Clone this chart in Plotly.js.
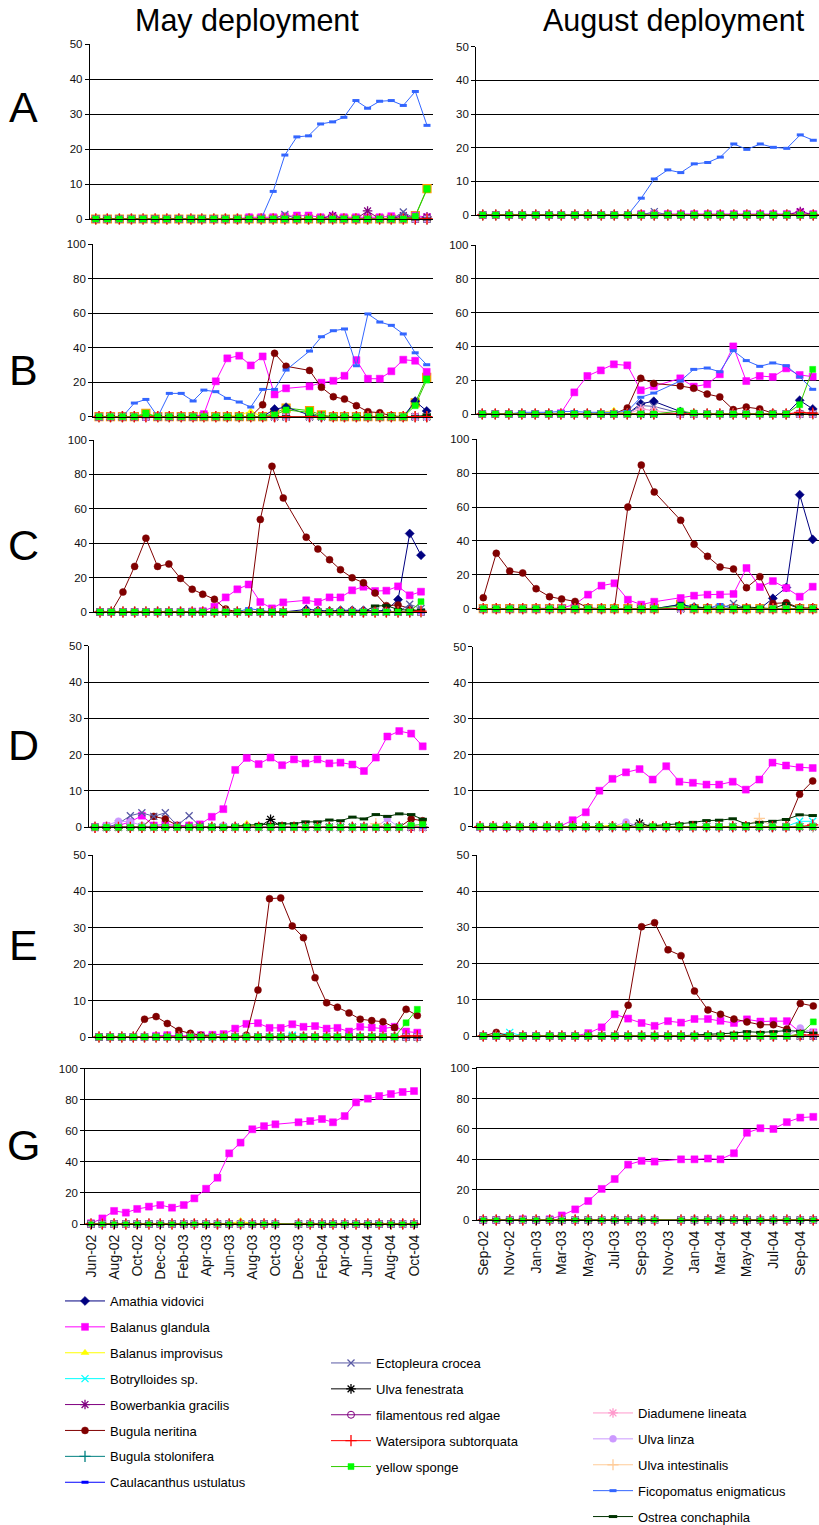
<!DOCTYPE html>
<html><head><meta charset="utf-8">
<script src="https://cdn.plot.ly/plotly-3.0.1.min.js"></script>
<style>html,body{margin:0;padding:0;background:#fff;overflow:hidden}#chart{width:819px;height:1580px}</style>
</head><body><div id="chart"></div>
<script>
// ---------------- DATA ----------------
const mayMonths = ['2002-06-01','2002-07-01','2002-08-01','2002-09-01','2002-10-01','2002-11-01','2002-12-01',
  '2003-01-01','2003-02-01','2003-03-01','2003-04-01','2003-05-01','2003-06-01','2003-07-01','2003-08-01',
  '2003-09-01','2003-10-01','2003-11-01','2003-12-01','2004-01-01','2004-02-01','2004-03-01','2004-04-01',
  '2004-05-01','2004-06-01','2004-07-01','2004-08-01','2004-09-01','2004-10-01'];
const augMonths = ['2002-09-01','2002-10-01','2002-11-01','2002-12-01','2003-01-01','2003-02-01','2003-03-01',
  '2003-04-01','2003-05-01','2003-06-01','2003-07-01','2003-08-01','2003-09-01','2003-10-01','2003-11-01',
  '2003-12-01','2004-01-01','2004-02-01','2004-03-01','2004-04-01','2004-05-01','2004-06-01','2004-07-01',
  '2004-08-01','2004-09-01','2004-10-01'];

const speciesNames = ['Amathia vidovici','Balanus glandula','Balanus improvisus','Botrylloides sp.',
  'Bowerbankia gracilis','Bugula neritina','Bugula stolonifera','Caulacanthus ustulatus',
  'Ectopleura crocea','Ulva fenestrata','filamentous red algae','Watersipora subtorquata','yellow sponge',
  'Diadumene lineata','Ulva linza','Ulva intestinalis','Ficopomatus enigmaticus','Ostrea conchaphila'];
const legendColumn = [1,1,1,1,1,1,1,1,2,2,2,2,2,3,3,3,3,3];
// order in which the series are painted (later = on top); keeps each legend column's order
const drawOrder = ['Amathia vidovici','Balanus glandula','Balanus improvisus','Botrylloides sp.',
  'Bowerbankia gracilis','Bugula neritina','Bugula stolonifera','Caulacanthus ustulatus',
  'Ectopleura crocea','Ulva fenestrata','filamentous red algae','Diadumene lineata','Ulva linza',
  'Ulva intestinalis','Ficopomatus enigmaticus','Ostrea conchaphila','Watersipora subtorquata','yellow sponge'];
const rowLetters = ['A','B','C','D','E','G'];
const columnTitles = ['May deployment','August deployment'];
const yMax = [50,100,100,50,50,100];

// months missing (no survey) per panel: index into month list
const gaps = {A_may:[],A_aug:[],B_may:[17],B_aug:[14],C_may:[17],C_aug:[14],D_may:[],D_aug:[],E_may:[],E_aug:[],G_may:[17],G_aug:[14]};

// --- full series (% cover) ---
const A_may_Ficopomatus = [0,0,0,0,0,0,0,0,0,0,0,0,0,0,0,7.9,18.3,23.5,23.8,27.2,27.8,29.1,33.9,31.7,33.7,33.9,32.5,36.5,26.8];
const A_aug_Ficopomatus = [0,0,0,0,0,0,0,0,0,0,0,0,5.0,10.7,13.4,12.6,15.2,15.6,17.2,21.1,19.5,21.1,20.1,19.8,23.8,22.2];

const B_may_Ficopomatus = [0,0,0,7.9,10,0,13.5,13.5,9.1,15.4,14.5,10.6,8.5,5.6,15.8,15.8,27,null,38,46.3,49.8,50.8,29.5,59.5,54.8,52.9,47.9,37,30.1];
const B_may_Balanus = [0,0,0,0,0,0,0,0,0,1.5,20.5,33.8,35.3,29.7,34.9,12.9,16.4,null,17.6,19.7,20.8,23.7,32.8,22,22,26.3,33,32.4,26];
const B_may_Bugula = [0,0,0,0,0,0,0,0,0,0,0,0,0,0,6.9,36.7,29.2,null,26.8,17,11.6,10.2,6.4,2.9,2.3,0.5,0,0,0];
const B_aug_Balanus = [0,0,0,0,0,0,0.5,12.8,22.5,25.8,29.4,28.8,14,16.4,null,21.1,16.2,17.6,23.5,40,19.5,22.5,21.9,27,23.1,22.1];
const B_aug_Ficopomatus = [0,0,0,1,1,1,1.5,1.5,1,1,1,1.5,9.9,12.4,null,19.5,26.4,27.2,25,37.5,31.6,28.2,30.2,28.6,21.9,14.6];
const B_aug_Bugula = [0,0,0,0,0,0,0,0,0,0,0,3.5,21.1,18.1,null,16.6,15.2,11.8,10.1,2.6,4.1,3,0.5,0,0.5,0.5];

const C_may_Bugula = [0,0,11.6,26.5,42.9,26.5,27.9,19.5,13.2,10.3,7.4,1.7,0,0,53.8,84.7,66.3,null,43.5,36.6,30.4,24.6,19.9,17,11,3.7,4.1,2,0];
const C_may_Balanus = [0,0,0,0,0,0,0,0,0.3,0.5,3.1,8.5,13.2,16,5.8,2.1,5.6,null,6.8,5.8,8.5,8.5,12.6,14.7,12.2,12.4,14.9,9.7,11.8];
const C_aug_Bugula = [6.5,32.7,22.2,21.1,11.8,7.1,5.7,4.3,0.5,0,0,60,84.8,68.9,null,52.2,38,30.9,24.6,23.4,12.4,18.9,3.1,3.5,0.5,0.5];
const C_aug_Balanus = [0,0,0,0,0,0,0.3,2.6,8.3,13.6,15,5.3,2.4,4.1,null,6.3,7.7,8.3,8.3,8.7,24,12.8,16.3,12.2,7.1,13];

const D_may_Balanus = [0,0.3,0.5,1.5,3.2,0.5,0.8,0.5,0.5,0.8,2.9,5,15.8,19.1,17.4,19.2,17.1,18.7,17.6,18.7,17.6,17.8,17.3,15.5,19.2,25,26.5,25.8,22.3];
const D_may_Ostrea = [0,0,0,0,0,0,0,0,0,0,0,0,0.3,0.5,0.8,0.8,1,1,1.5,1.5,2,1.8,2.8,2.3,3.5,3,3.7,3.5,2.2];
const D_aug_Balanus = [0,0,0,0,0,0,0,1.8,4,10,13.3,15.1,16,13.1,16.8,12.5,12.2,11.7,11.7,12.5,10.3,13.1,17.8,17,16.5,16.3];
const D_aug_Ostrea = [0,0,0,0,0,0,0,0,0,0,0,0,0,0.3,0.5,0.8,1.2,1.7,1.8,2.2,0.8,1.2,1.5,2,3.3,3.1];

const E_may_Bugula = [0,0,0,0,4.9,5.6,3.7,1.8,1,0.5,0.2,0,0,0.5,12.9,38,38.2,30.5,27.3,16.3,9.4,8.2,6.6,4.9,4.5,4.2,2.6,7.6,5.9];
const E_may_Balanus = [0,0,0,0,0,0.3,0.5,0.3,0.3,0.5,0.6,0.8,2.3,3.6,3.8,2.5,2.5,3.5,2.8,3,2.3,2.5,1.5,2.8,2.6,2.3,2.8,1.5,1.2];
const E_aug_Bugula = [0,1,0,0,0,0,0,0,0,0,0,8.5,30.2,31.3,23.8,22.2,12.4,7.2,6,4.7,3.9,3.1,3.1,1.9,9,8.3];
const E_aug_Balanus = [0,0,0,0,0,0,0,0,0.8,2.4,6,4.8,3.6,2.8,4.1,3.7,4.7,4.7,4.2,3.6,4.6,4,4.1,4.1,1,1];
const E_aug_Ostrea = [0,0,0,0,0,0,0,0,0,0,0,0,0,0,0,0,0.3,0.5,0.5,0.8,1.2,1,1.2,1.5,1.3,0.8];

const G_may_Balanus = [0.5,3.6,8.4,7.3,9.7,11.2,12.2,10.5,12.2,16.5,22.7,29.8,45.5,52.4,61,63,64.2,null,65.5,66.3,67.6,65.5,69.5,78.3,80.7,82.4,83.7,85,85.6];
const G_aug_Balanus = [0,0,0,0.5,0,0.5,3,7,12.5,20.5,27,36.5,39,38.5,null,40,40,40.5,40,44,57.5,60.5,60,64.5,67.5,68];

// --- sparse minor series: [month index, % cover] ---
const A_may_BalanusMinor = [[13,0.5],[14,0.5],[15,0.5],[16,0.8],[17,1],[18,1],[19,0.5],[20,0.8],[21,0.5],[22,0.5],[23,0.5],[24,0.5],[25,0.8],[26,0.5],[27,1],[28,0.5]];
const A_may_Bowerbankia = [[20,1],[23,2.3],[26,1],[28,0.6]];
const A_may_Ectopleura = [[16,1.3],[26,2]];
const A_may_Sponge = [[27,0.8],[28,8.5]];
const A_may_Unlabelled = [[27,1],[28,8.7]];
const A_aug_BalanusMinor = [[12,0.3],[13,0.3],[14,0.3],[15,0.3],[16,0.3],[17,0.3],[18,0.3],[19,0.3],[20,0.3],[21,0.3],[22,0.3],[23,0.3],[24,0.8],[25,0.3]];
const A_aug_Bowerbankia = [[24,1]];
const A_aug_Ectopleura = [[13,1]];

const B_may_Amathia = [[15,4.4],[16,5.5],[18,1],[27,9],[28,3.3]];
const B_may_Sponge = [[4,1.4],[15,1],[16,3.9],[18,2.5],[27,6.4],[28,21.2]];
const B_may_Unlabelled = [[4,2],[15,2],[16,5],[18,3.5],[19,1],[27,8],[28,22.8]];
const B_may_Improvisus = [[12,1],[13,3]];
const B_may_Ostrea = [[28,1]];
const B_aug_Amathia = [[12,6.1],[13,7.5],[15,1.5],[24,8.1],[25,3]];
const B_aug_Ectopleura = [[12,5],[13,4.5],[15,0.5]];
const B_aug_Diadumene = [[12,3],[13,2]];
const B_aug_Sponge = [[15,1.8],[16,0.5],[24,5.5],[25,26.4]];
const B_aug_Improvisus = [[9,1],[10,2]];
const B_aug_Watersipora = [[24,1],[25,0.5]];

const C_may_Amathia = [[18,1.5],[19,1],[20,0.5],[21,1],[22,1],[23,1],[24,0.5],[25,1],[26,7.2],[27,45.6],[28,33]];
const C_may_Ostrea = [[24,3.5],[25,3.7],[26,1.5],[27,1],[28,1]];
const C_may_Ectopleura = [[27,4.5],[28,2]];
const C_may_Ficopomatus = [[13,2],[14,1]];
const C_may_Sponge = [[28,6]];
const C_may_Watersipora = [[28,0.5]];
const C_aug_Amathia = [[15,2.5],[16,1],[17,0.5],[22,6.1],[23,12.5],[24,67.3],[25,40.9]];
const C_aug_Ostrea = [[16,1],[17,0.5],[19,0.5],[20,1],[21,0.5],[23,3]];
const C_aug_Ficopomatus = [[18,2.5]];
const C_aug_Sponge = [[15,1.5]];
const C_aug_Unlabelled = [[15,2.5]];
const C_aug_Ectopleura = [[19,3.1]];

const D_may_Ectopleura = [[2,1],[3,3.2],[4,4],[5,3],[6,4],[7,0.5],[8,3.2],[9,0.3]];
const D_may_Bugula = [[5,3],[6,2.3],[7,0.5],[27,2.3],[28,1.8]];
const D_may_UlvaLinza = [[1,0.5],[2,1.7],[3,1.5],[4,0.5],[11,0.5],[15,0.3],[25,2.3],[27,0.5]];
const D_may_UlvaFenestrata = [[15,2.2]];
const D_may_UlvaIntestinalis = [[24,1]];
const D_may_Improvisus = [[13,1]];
const D_may_Sponge = [[27,0.5],[28,0.8]];
const D_aug_Bugula = [[24,9],[25,12.7]];
const D_aug_UlvaLinza = [[11,1.3]];
const D_aug_UlvaFenestrata = [[12,1]];
const D_aug_UlvaIntestinalis = [[21,2.3]];
const D_aug_Botrylloides = [[24,1.5],[25,1.5]];
const D_aug_Watersipora = [[25,0.5]];
const D_aug_Improvisus = [[10,0.5],[13,0.5]];

const E_may_Sponge = [[27,3.9],[28,7.6]];
const E_may_Botrylloides = [[17,0.5]];
const E_may_Watersipora = [[27,0.3],[28,0.3]];
const E_aug_Sponge = [[24,0.5],[25,3.9]];
const E_aug_UlvaLinza = [[24,2.2],[25,1]];
const E_aug_Botrylloides = [[2,1]];
const E_aug_Watersipora = [[24,0.3],[25,0.3]];

const G_may_Improvisus = [[13,2]];

// ---------------- STYLES ----------------
const FONT = 'Liberation Sans, Arial, sans-serif';
const STYLE = {
  'Amathia vidovici':        {color:'#000080', symbol:'diamond', size:7},
  'Balanus glandula':        {color:'#FF00FF', symbol:'square', size:7},
  'Balanus improvisus':      {color:'#FFFF00', symbol:'triangle-up', size:7},
  'Botrylloides sp.':        {color:'#00FFFF', symbol:'x-thin-open', size:7, lw:1.3},
  'Bowerbankia gracilis':    {color:'#800080', symbol:'asterisk-open', size:8, lw:1.3},
  'Bugula neritina':         {color:'#800000', symbol:'circle', size:7},
  'Bugula stolonifera':      {color:'#008080', symbol:'cross-thin-open', size:8, lw:1.3},
  'Caulacanthus ustulatus':  {color:'#0000FF', symbol:'line-ew-open', size:5, lw:3},
  'Ectopleura crocea':       {color:'#5A5AA5', symbol:'x-thin-open', size:7, lw:1.3},
  'Ulva fenestrata':         {color:'#000000', symbol:'asterisk-open', size:8, lw:1.3},
  'filamentous red algae':   {color:'#800080', symbol:'circle-open', size:7, lw:1},
  'Watersipora subtorquata': {color:'#FF0000', symbol:'cross-thin-open', size:8, lw:1.3},
  'yellow sponge':           {color:'#00FF00', line:'#33CC00', symbol:'square', size:6},
  'Diadumene lineata':       {color:'#FF99CC', symbol:'asterisk-open', size:8, lw:1.3},
  'Ulva linza':              {color:'#CC99FF', symbol:'circle', size:7},
  'Ulva intestinalis':       {color:'#FFCC99', symbol:'cross-thin-open', size:8, lw:1.3},
  'Ficopomatus enigmaticus': {color:'#3366FF', symbol:'line-ew-open', size:5, lw:3},
  'Ostrea conchaphila':      {color:'#003300', symbol:'line-ew-open', size:6, lw:3},
  '_unlabelled':             {color:'#00FF00', line:'#33CC00', symbol:'square', size:8, edge:'#FF9900'}
};

// panel -> which named arrays feed which species
const PANELS = [
  {key:'A_may', row:0, col:0, full:{'Ficopomatus enigmaticus':A_may_Ficopomatus},
    sparse:{'Balanus glandula':A_may_BalanusMinor,'Bowerbankia gracilis':A_may_Bowerbankia,'Ectopleura crocea':A_may_Ectopleura,'yellow sponge':A_may_Sponge,'_unlabelled':A_may_Unlabelled}},
  {key:'A_aug', row:0, col:1, full:{'Ficopomatus enigmaticus':A_aug_Ficopomatus},
    sparse:{'Balanus glandula':A_aug_BalanusMinor,'Bowerbankia gracilis':A_aug_Bowerbankia,'Ectopleura crocea':A_aug_Ectopleura}},
  {key:'B_may', row:1, col:0, full:{'Ficopomatus enigmaticus':B_may_Ficopomatus,'Balanus glandula':B_may_Balanus,'Bugula neritina':B_may_Bugula},
    sparse:{'Amathia vidovici':B_may_Amathia,'yellow sponge':B_may_Sponge,'_unlabelled':B_may_Unlabelled,'Balanus improvisus':B_may_Improvisus,'Ostrea conchaphila':B_may_Ostrea}},
  {key:'B_aug', row:1, col:1, full:{'Balanus glandula':B_aug_Balanus,'Ficopomatus enigmaticus':B_aug_Ficopomatus,'Bugula neritina':B_aug_Bugula},
    sparse:{'Amathia vidovici':B_aug_Amathia,'Ectopleura crocea':B_aug_Ectopleura,'Diadumene lineata':B_aug_Diadumene,'yellow sponge':B_aug_Sponge,'Balanus improvisus':B_aug_Improvisus,'Watersipora subtorquata':B_aug_Watersipora}},
  {key:'C_may', row:2, col:0, full:{'Bugula neritina':C_may_Bugula,'Balanus glandula':C_may_Balanus},
    sparse:{'Amathia vidovici':C_may_Amathia,'Ostrea conchaphila':C_may_Ostrea,'Ectopleura crocea':C_may_Ectopleura,'Ficopomatus enigmaticus':C_may_Ficopomatus,'yellow sponge':C_may_Sponge,'Watersipora subtorquata':C_may_Watersipora}},
  {key:'C_aug', row:2, col:1, full:{'Bugula neritina':C_aug_Bugula,'Balanus glandula':C_aug_Balanus},
    sparse:{'Amathia vidovici':C_aug_Amathia,'Ostrea conchaphila':C_aug_Ostrea,'Ficopomatus enigmaticus':C_aug_Ficopomatus,'yellow sponge':C_aug_Sponge,'_unlabelled':C_aug_Unlabelled,'Ectopleura crocea':C_aug_Ectopleura}},
  {key:'D_may', row:3, col:0, full:{'Balanus glandula':D_may_Balanus,'Ostrea conchaphila':D_may_Ostrea},
    sparse:{'Ectopleura crocea':D_may_Ectopleura,'Bugula neritina':D_may_Bugula,'Ulva linza':D_may_UlvaLinza,'Ulva fenestrata':D_may_UlvaFenestrata,'Ulva intestinalis':D_may_UlvaIntestinalis,'Balanus improvisus':D_may_Improvisus,'yellow sponge':D_may_Sponge}},
  {key:'D_aug', row:3, col:1, full:{'Balanus glandula':D_aug_Balanus,'Ostrea conchaphila':D_aug_Ostrea},
    sparse:{'Bugula neritina':D_aug_Bugula,'Ulva linza':D_aug_UlvaLinza,'Ulva fenestrata':D_aug_UlvaFenestrata,'Ulva intestinalis':D_aug_UlvaIntestinalis,'Botrylloides sp.':D_aug_Botrylloides,'Watersipora subtorquata':D_aug_Watersipora,'Balanus improvisus':D_aug_Improvisus}},
  {key:'E_may', row:4, col:0, full:{'Bugula neritina':E_may_Bugula,'Balanus glandula':E_may_Balanus},
    sparse:{'yellow sponge':E_may_Sponge,'Botrylloides sp.':E_may_Botrylloides,'Watersipora subtorquata':E_may_Watersipora}},
  {key:'E_aug', row:4, col:1, full:{'Bugula neritina':E_aug_Bugula,'Balanus glandula':E_aug_Balanus,'Ostrea conchaphila':E_aug_Ostrea},
    sparse:{'yellow sponge':E_aug_Sponge,'Ulva linza':E_aug_UlvaLinza,'Botrylloides sp.':E_aug_Botrylloides,'Watersipora subtorquata':E_aug_Watersipora}},
  {key:'G_may', row:5, col:0, full:{'Balanus glandula':G_may_Balanus}, sparse:{'Balanus improvisus':G_may_Improvisus}},
  {key:'G_aug', row:5, col:1, full:{'Balanus glandula':G_aug_Balanus}, sparse:{}}
];

// ---------------- GEOMETRY (pixels: first point x, last point x, plot top, plot bottom) ----------------
const GEOM = [
  [95.7,427,44.3,219],[482.7,813.3,46.7,215],
  [99,426.7,244,416.7],[482.3,812.7,245,414],
  [100,421,440,612],[483.3,812.7,439.3,608.7],
  [95,422.7,645.7,827.3],[480,812.7,646.7,826.7],
  [99,417.3,855,1037],[483.3,813.3,855,1036],
  [91,414,1068.7,1224],[483.3,813.3,1068.3,1220]
];
// canvas is drawn a little taller than the 1525px window so the legends are never pushed upward
const W = 819, H = 1580;

function buildSeries(months, gapIdx, full, sparse) {
  if (full) return full;
  const arr = months.map((m,i) => gapIdx.includes(i) ? null : 0);
  (sparse || []).forEach(([i,v]) => { arr[i] = v; });
  return arr;
}
function toDateStr(ms){ return new Date(ms).toISOString().replace('T',' ').replace('Z',''); }

const legendBase = {xanchor:'left', yanchor:'top', font:{family:FONT,size:13,color:'#000'}, itemwidth:40, tracegroupgap:6, bgcolor:'rgba(0,0,0,0)', itemclick:false, itemdoubleclick:false};
const traces = [];
const layout = {
  width: W, height: H, margin:{l:0,r:0,t:0,b:0}, paper_bgcolor:'#fff', plot_bgcolor:'rgba(0,0,0,0)',
  font:{family:FONT, color:'#000'}, showlegend:true, annotations:[],
  legend: Object.assign({x:60/W, y:1-1286/H}, legendBase),
  legend2: Object.assign({x:326/W, y:1-1348/H}, legendBase),
  legend3: Object.assign({x:588/W, y:1-1398/H}, legendBase)
};

PANELS.forEach((p, k) => {
  const months = p.col === 0 ? mayMonths : augMonths;
  const N = months.length - 1;
  const [p0, pN, top, bottom] = GEOM[k];
  const s = (pN - p0) / N;
  const x0 = p0 - s/2, x1 = Math.min(pN + s/2, W);
  const t0 = Date.parse(months[0]+'T00:00:00Z'), tN = Date.parse(months[N]+'T00:00:00Z');
  const mpp = (tN - t0) / (pN - p0);
  const ax = k + 1;
  const sfx = ax === 1 ? '' : String(ax);
  const isBottom = p.row === 5;
  layout['xaxis' + sfx] = {
    type:'date', domain:[x0/W, x1/W], anchor: 'y' + sfx,
    range:[toDateStr(t0 - (p0-x0)*mpp), toDateStr(tN + (x1-pN)*mpp)],
    showgrid:false, zeroline:false, showline:true, linecolor:'#000', linewidth:1,
    showticklabels:isBottom, ticks: isBottom ? 'outside' : '', ticklen:4, tickcolor:'#000',
    tickformat:'%b-%y', dtick:'M2', tick0: months[0], tickangle:-90,
    tickfont:{family:FONT, size:14, color:'#111'}, fixedrange:true,
    mirror: isBottom
  };
  layout['yaxis' + sfx] = {
    domain:[1-bottom/H, 1-top/H], anchor:'x' + sfx,
    range:[0, yMax[p.row]], dtick: yMax[p.row]/5, showgrid:true, gridcolor:'#000', gridwidth:1,
    zeroline:false, showline:true, linecolor:'#000', linewidth:1, ticks:'outside', ticklen:4, tickcolor:'#000',
    tickfont:{family:FONT, size:11.5, color:'#111'}, fixedrange:true, mirror: isBottom
  };
  // unlabelled (orange-edged) series drawn first so that labelled lines sit on top
  const keys = ['_unlabelled'].concat(drawOrder);
  keys.forEach((name) => {
    if (name === '_unlabelled' && !p.sparse[name]) return;
    const si = speciesNames.indexOf(name);
    const st = STYLE[name];
    const y = buildSeries(months, gaps[p.key], p.full[name], p.sparse[name]);
    const thin = st.symbol.endsWith('-open');
    const isGreenG = (name === 'yellow sponge' && p.row === 5);
    traces.push({
      type:'scatter', mode:'lines+markers', x: months, y: y, name: name === '_unlabelled' ? '' : name,
      xaxis:'x' + sfx, yaxis:'y' + sfx, connectgaps:true, cliponaxis:false,
      line:{color: st.line || st.color, width:1},
      marker:{symbol: st.symbol, size: isGreenG ? 4.5 : st.size, color: st.color,
        line:{color: st.edge || st.color, width: thin ? st.lw : (st.edge ? 1.2 : 0.5)}},
      legendgroup: name,
      showlegend: (k === 0 && name !== '_unlabelled'),
      legend: si < 0 ? 'legend' : (legendColumn[si] === 1 ? 'legend' : 'legend' + legendColumn[si]),
      hoverinfo:'skip'
    });
  });
});

// titles & row letters
layout.annotations.push({text:columnTitles[0], x:246.5/W, y:1-21/H, xref:'paper', yref:'paper', xanchor:'center', yanchor:'middle', showarrow:false, font:{family:FONT, size:30.5, color:'#000'}});
layout.annotations.push({text:columnTitles[1], x:674/W, y:1-21/H, xref:'paper', yref:'paper', xanchor:'center', yanchor:'middle', showarrow:false, font:{family:FONT, size:30.5, color:'#000'}});
const letterY = [107, 370, 545, 745, 945, 1145];
rowLetters.forEach((L, i) => {
  layout.annotations.push({text:L, x:23.5/W, y:1-letterY[i]/H, xref:'paper', yref:'paper', xanchor:'center', yanchor:'middle', showarrow:false, font:{family:FONT, size:43, color:'#000'}});
});

Plotly.newPlot('chart', traces, layout, {staticPlot:true, displayModeBar:false});
</script></body></html>
